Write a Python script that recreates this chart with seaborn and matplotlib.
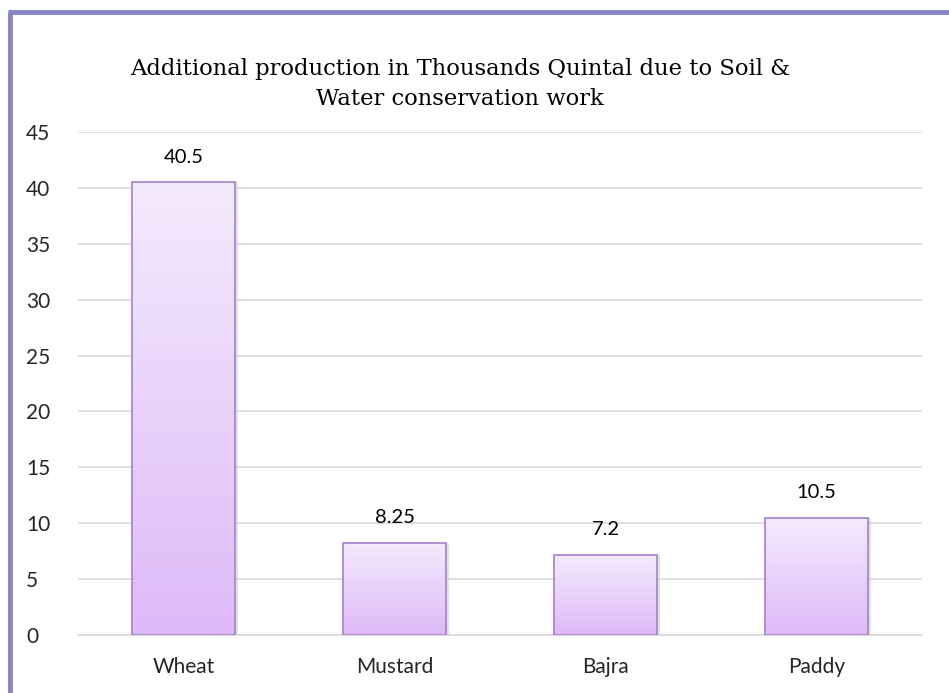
import matplotlib
matplotlib.use("Agg")
import matplotlib.pyplot as plt
import matplotlib.colors as mcolors
import numpy as np
import pandas as pd
import seaborn as sns

categories = ["Wheat", "Mustard", "Bajra", "Paddy"]
values = [40.5, 8.25, 7.2, 10.5]
value_labels = ["40.5", "8.25", "7.2", "10.5"]
yticks = [0, 5, 10, 15, 20, 25, 30, 35, 40, 45]
title = "Additional production in Thousands Quintal due to Soil &\nWater conservation work"

df = pd.DataFrame({"crop": categories, "value": values})

sns.set_theme(style="white")
plt.rcParams['font.family'] = ['Lato', 'DejaVu Sans']

fig = plt.figure(figsize=(9.49, 6.93), dpi=100)
ax = fig.add_axes([78/949, 1-635/693, (922-78)/949, (635-132)/693])

sns.barplot(data=df, x="crop", y="value", ax=ax, width=0.49,
            color="#ead6fb", edgecolor="#a988d0", linewidth=1.3, zorder=3)

top_c = np.array(mcolors.to_rgb("#f4eafd"))
bot_c = np.array(mcolors.to_rgb("#debaf8"))
grad = np.linspace(0, 1, 256)[:, None]
img = (top_c[None, None, :] * (1 - grad[..., None]) + bot_c[None, None, :] * grad[..., None])
for p in list(ax.patches):
    x0, y0 = p.get_x(), p.get_y()
    w, h = p.get_width(), p.get_height()
    # subtle shadow
    ax.bar(x0 + w/2 + 0.014, h, width=w, bottom=0.0, color="#cfcfcf", alpha=0.6, zorder=2, linewidth=0)
    im = ax.imshow(img, extent=[x0, x0 + w, y0, y0 + h], aspect="auto", zorder=3.5,
                   interpolation="bilinear")
    im.set_clip_path(p)
    p.set_facecolor("none")
    p.set_zorder(4)

for i, (v, lab) in enumerate(zip(values, value_labels)):
    ax.annotate(lab, (i, v), xytext=(0, 18), textcoords="offset points",
                ha="center", va="center", fontsize=14.5, color="#000000")

ax.set_xlim(-0.5, 3.5)
ax.set_ylim(0, 45)
ax.set_yticks(yticks)
ax.set_yticklabels([str(t) for t in yticks], fontsize=15)
ax.tick_params(axis="x", labelsize=15, length=0, pad=16)
ax.grid(axis="y", color="#d9d9d9", linewidth=1.2, zorder=0)
ax.set_axisbelow(True)
ax.set_xlabel("")
ax.set_ylabel("")
for s in ["top", "right", "left"]:
    ax.spines[s].set_visible(False)
ax.spines["bottom"].set_color("#d9d9d9")
ax.spines["bottom"].set_linewidth(1.2)
for lbl in ax.get_yticklabels():
    lbl.set_horizontalalignment("left")
ax.tick_params(axis="y", length=0, pad=37.5)

fig.text(460/949, 1-84/693, title, ha="center", va="center",
         fontsize=16.3, family=["DejaVu Serif"], linespacing=1.5, color="#000000")

# border (left and top)
fig.add_artist(plt.Line2D([10/949, 10/949], [0, 1-12/693], color="#8884c8", linewidth=3.5,
                          solid_capstyle="butt", transform=fig.transFigure))
fig.add_artist(plt.Line2D([8/949, 1], [1-12/693, 1-12/693], color="#8884c8", linewidth=3.5,
                          solid_capstyle="butt", transform=fig.transFigure))

fig.savefig("out.png", dpi=100)
